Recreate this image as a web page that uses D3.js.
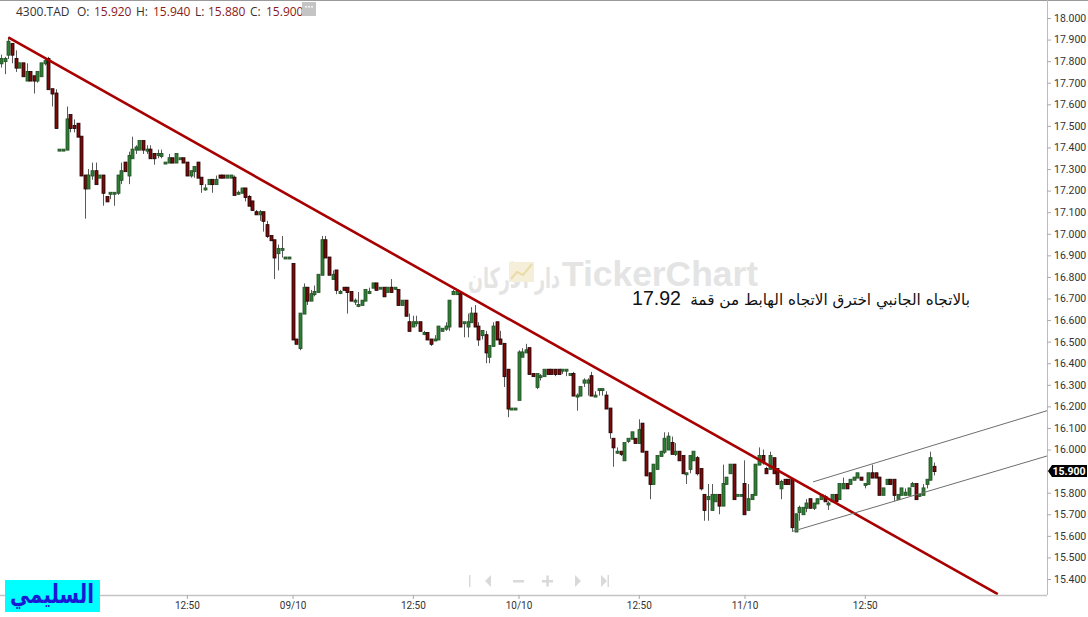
<!DOCTYPE html>
<html><head><meta charset="utf-8">
<script src="https://cdn.jsdelivr.net/npm/d3@7"></script>
<style>html,body{margin:0;padding:0;background:#fff;overflow:hidden}svg{display:block}</style>
</head><body>
<svg id="chart" width="1088" height="617"></svg>
<script>
// ---------------- DATA ----------------
const openArr = [
17.79,17.80,17.83,17.88,17.81,17.77,17.79,17.71,17.75,17.73,
17.71,17.73,17.79,17.81,17.67,17.65,17.39,17.39,17.39,17.55,
17.50,17.51,17.45,17.27,17.21,17.27,17.29,17.26,17.27,17.17,
17.19,17.19,17.19,17.25,17.33,17.27,17.35,17.39,17.39,17.43,
17.39,17.39,17.37,17.37,17.36,17.33,17.33,17.35,17.33,17.35,
17.35,17.33,17.27,17.29,17.33,17.26,17.21,17.23,17.25,17.23,
17.27,17.27,17.26,17.26,17.26,17.19,17.19,17.21,17.17,17.15,
17.10,17.09,17.10,17.04,16.99,16.97,16.91,16.93,16.89,16.89,
16.86,16.51,16.47,16.63,16.75,16.69,16.72,16.73,16.81,16.97,
16.89,16.79,16.83,16.73,16.75,16.75,16.73,16.69,16.67,16.67,
16.69,16.73,16.75,16.77,16.75,16.75,16.73,16.75,16.75,16.74,
16.67,16.69,16.59,16.57,16.59,16.59,16.54,16.54,16.51,16.51,
16.51,16.55,16.56,16.57,16.72,16.72,16.72,16.59,16.57,16.59,
16.63,16.57,16.53,16.53,16.43,16.48,16.59,16.51,16.49,16.37,
16.19,16.19,16.23,16.43,16.45,16.47,16.35,16.29,16.34,16.34,
16.37,16.37,16.37,16.37,16.37,16.37,16.35,16.35,16.25,16.25,
16.31,16.31,16.34,16.25,16.28,16.28,16.25,16.19,16.05,15.99,
15.99,15.95,16.04,16.05,16.05,16.03,16.12,15.99,15.89,15.84,
15.91,15.97,15.99,16.00,16.03,15.98,15.99,15.97,15.89,15.91,
15.95,15.96,15.91,15.79,15.77,15.72,15.76,15.79,15.74,15.84,
15.89,15.93,15.79,15.79,15.84,15.72,15.77,15.79,15.93,15.97,
15.91,15.91,15.96,15.91,15.82,15.86,15.86,15.86,15.62,15.71,
15.70,15.73,15.77,15.73,15.75,15.77,15.78,15.75,15.76,15.79,
15.77,15.82,15.84,15.84,15.86,15.87,15.87,15.84,15.84,15.89,
15.89,15.87,15.79,15.84,15.86,15.86,15.77,15.79,15.79,15.79,
15.83,15.84,15.79,15.79,15.84,15.86,15.92];
const highArr = [
17.83,17.82,17.91,17.88,17.85,17.79,17.79,17.79,17.75,17.73,
17.75,17.79,17.81,17.82,17.67,17.67,17.39,17.39,17.59,17.55,
17.53,17.51,17.45,17.27,17.30,17.33,17.33,17.27,17.27,17.17,
17.19,17.19,17.27,17.33,17.33,17.38,17.45,17.41,17.43,17.43,
17.41,17.41,17.37,17.39,17.39,17.33,17.37,17.35,17.37,17.35,
17.35,17.33,17.29,17.31,17.33,17.26,17.23,17.25,17.25,17.27,
17.27,17.27,17.27,17.27,17.27,17.20,17.21,17.21,17.18,17.15,
17.11,17.11,17.10,17.06,16.99,16.97,16.95,16.99,16.89,16.89,
16.86,16.51,16.63,16.77,16.75,16.74,16.76,16.81,16.99,16.99,
16.89,16.83,16.83,16.74,16.75,16.75,16.73,16.70,16.73,16.69,
16.74,16.75,16.77,16.77,16.75,16.75,16.75,16.79,16.75,16.74,
16.69,16.69,16.63,16.62,16.62,16.59,16.55,16.54,16.51,16.53,
16.57,16.56,16.59,16.69,16.74,16.73,16.73,16.59,16.63,16.66,
16.67,16.59,16.55,16.55,16.48,16.59,16.59,16.55,16.49,16.37,
16.19,16.19,16.46,16.47,16.49,16.47,16.35,16.35,16.35,16.37,
16.37,16.37,16.37,16.37,16.37,16.37,16.35,16.36,16.26,16.29,
16.33,16.33,16.36,16.27,16.28,16.28,16.27,16.19,16.05,16.01,
15.99,16.03,16.05,16.08,16.05,16.14,16.12,15.99,15.89,15.93,
15.97,15.99,16.08,16.08,16.06,16.03,15.99,15.97,15.89,15.97,
15.99,15.97,15.91,15.79,15.84,15.84,15.79,15.79,15.93,15.87,
15.93,15.93,15.79,15.79,15.95,15.84,15.79,15.93,16.01,16.00,
15.92,15.99,15.96,15.91,15.86,15.86,15.86,15.86,15.70,15.74,
15.73,15.77,15.77,15.75,15.77,15.79,15.79,15.76,15.79,15.79,
15.84,15.87,15.84,15.86,15.87,15.89,15.87,15.84,15.89,15.93,
15.89,15.87,15.82,15.86,15.86,15.86,15.79,15.82,15.82,15.82,
15.85,15.84,15.79,15.84,15.86,15.99,15.94];
const lowArr = [
17.77,17.74,17.81,17.79,17.75,17.77,17.73,17.71,17.71,17.65,
17.70,17.73,17.78,17.67,17.59,17.49,17.39,17.39,17.39,17.47,
17.47,17.45,17.27,17.07,17.21,17.25,17.23,17.26,17.13,17.15,
17.16,17.13,17.18,17.23,17.29,17.23,17.35,17.37,17.39,17.37,
17.37,17.35,17.32,17.35,17.35,17.33,17.33,17.33,17.33,17.35,
17.33,17.27,17.26,17.26,17.26,17.19,17.20,17.23,17.19,17.23,
17.26,17.26,17.26,17.26,17.18,17.18,17.19,17.15,17.13,17.11,
17.09,17.06,17.01,16.98,16.97,16.79,16.83,16.89,16.89,16.89,
16.51,16.49,16.46,16.63,16.67,16.69,16.71,16.73,16.81,16.89,
16.81,16.79,16.72,16.72,16.74,16.63,16.69,16.67,16.66,16.67,
16.69,16.72,16.75,16.74,16.75,16.71,16.73,16.73,16.74,16.67,
16.67,16.62,16.55,16.57,16.57,16.55,16.53,16.51,16.48,16.51,
16.51,16.55,16.55,16.55,16.72,16.72,16.57,16.52,16.52,16.59,
16.57,16.48,16.51,16.40,16.40,16.48,16.51,16.49,16.29,16.15,
16.19,16.19,16.23,16.43,16.45,16.35,16.34,16.28,16.32,16.34,
16.35,16.35,16.34,16.35,16.35,16.34,16.35,16.25,16.18,16.25,
16.29,16.25,16.25,16.25,16.25,16.25,16.19,16.05,15.92,15.98,
15.97,15.95,16.03,16.05,16.03,16.03,15.99,15.88,15.77,15.84,
15.91,15.97,15.98,16.00,15.98,15.97,15.95,15.89,15.84,15.89,
15.95,15.88,15.81,15.67,15.67,15.72,15.76,15.70,15.74,15.84,
15.89,15.77,15.79,15.79,15.70,15.72,15.77,15.79,15.93,15.93,
15.89,15.91,15.89,15.84,15.77,15.84,15.84,15.62,15.62,15.67,
15.70,15.71,15.73,15.72,15.75,15.77,15.76,15.72,15.76,15.76,
15.77,15.82,15.82,15.84,15.86,15.87,15.86,15.82,15.84,15.87,
15.87,15.79,15.79,15.84,15.84,15.76,15.77,15.79,15.79,15.79,
15.83,15.77,15.78,15.79,15.82,15.86,15.88];
const closeArr = [
17.81,17.81,17.89,17.83,17.77,17.79,17.73,17.75,17.71,17.71,
17.75,17.79,17.80,17.67,17.65,17.49,17.39,17.39,17.53,17.49,
17.49,17.45,17.27,17.21,17.27,17.29,17.23,17.27,17.19,17.15,
17.19,17.19,17.27,17.29,17.29,17.36,17.39,17.40,17.43,17.39,
17.39,17.35,17.35,17.37,17.37,17.33,17.35,17.33,17.37,17.35,
17.33,17.27,17.29,17.31,17.26,17.23,17.21,17.25,17.23,17.25,
17.26,17.26,17.27,17.27,17.18,17.19,17.21,17.17,17.13,17.11,
17.09,17.10,17.06,16.99,16.97,16.89,16.93,16.93,16.89,16.89,
16.51,16.49,16.63,16.75,16.69,16.72,16.73,16.81,16.97,16.89,
16.81,16.81,16.74,16.73,16.74,16.73,16.69,16.69,16.67,16.69,
16.74,16.73,16.77,16.74,16.75,16.71,16.75,16.73,16.75,16.67,
16.69,16.62,16.55,16.59,16.59,16.55,16.54,16.51,16.49,16.51,
16.57,16.56,16.57,16.69,16.73,16.73,16.57,16.59,16.59,16.63,
16.57,16.51,16.55,16.45,16.48,16.57,16.51,16.49,16.34,16.19,
16.19,16.19,16.45,16.45,16.46,16.35,16.34,16.35,16.34,16.37,
16.35,16.35,16.35,16.35,16.37,16.37,16.35,16.25,16.25,16.29,
16.32,16.32,16.25,16.25,16.28,16.28,16.19,16.08,16.01,15.99,
15.98,16.03,16.05,16.08,16.03,16.09,15.99,15.88,15.84,15.93,
15.97,15.99,16.05,16.06,15.98,15.99,15.95,15.89,15.89,15.97,
15.99,15.89,15.82,15.72,15.78,15.79,15.79,15.74,15.84,15.87,
15.93,15.77,15.79,15.79,15.70,15.77,15.79,15.93,15.97,15.94,
15.89,15.97,15.89,15.84,15.85,15.84,15.84,15.64,15.70,15.73,
15.73,15.75,15.73,15.75,15.77,15.79,15.76,15.75,15.79,15.76,
15.84,15.84,15.82,15.86,15.87,15.89,15.86,15.84,15.89,15.87,
15.87,15.79,15.82,15.86,15.84,15.79,15.79,15.82,15.80,15.82,
15.84,15.77,15.79,15.82,15.86,15.96,15.90];

const yTickValues = [18.0,17.9,17.8,17.7,17.6,17.5,17.4,17.3,17.2,17.1,17.0,16.9,16.8,16.7,16.6,16.5,16.4,16.3,16.2,16.1,16.0,15.9,15.8,15.7,15.6,15.5,15.4];
const xTickIndex = [18, 51, 80, 113, 142, 175, 204, 237];
// first tick label (08/10) is hidden under the author box in the reference
const xTickLabels = ["","12:50","09/10","12:50","10/10","12:50","11/10","12:50"];

// drawn lines (index, price anchors)
const trendIdx = [2, 273.5];      const trendPrice = [17.91, 15.33];
const chanLowIdx = [217, 287];    const chanLowPrice = [15.62, 15.97];
const chanUpIdx = [222.8, 287];   const chanUpPrice = [15.85, 16.18];

const symbol = "4300.TAD";
const ohlcLabels = ["O:", "H:", "L:", "C:"];
const ohlcValues = ["15.920", "15.940", "15.880", "15.900"];
const lastPrice = 15.90;
const noteArabic = "بالاتجاه الجانبي اخترق الاتجاه الهابط من قمة";
const noteNumber = "17.92";
const authorText = "السليمي";

// ---------------- CHART ----------------
const W = 1088, H = 617;
const plotRight = 1047, plotBottom = 595;
const svg = d3.select("#chart");
const x = d3.scaleLinear().domain([0, 287]).range([1, 1047]);
const y = d3.scaleLinear().domain([15.4, 18.0]).range([579, 18]);

svg.append("defs").append("clipPath").attr("id","plotclip")
  .append("rect").attr("x",0).attr("y",0).attr("width",plotRight).attr("height",plotBottom);

// top border
svg.append("line").attr("x1",0).attr("x2",W).attr("y1",0.5).attr("y2",0.5).attr("stroke","#9a9a9a").attr("stroke-width",1);

// watermark
const wm = svg.append("g");
wm.append("text").attr("x",562).attr("y",286).attr("font-family","Liberation Sans, Arial, sans-serif")
  .attr("font-weight","bold").attr("font-size",40).attr("fill","#e4e4e4").text("TickerChart")
  .each(function(){ const w=this.getComputedTextLength(); d3.select(this).attr("font-size",40*196/w); });
wm.append("text").attr("text-anchor","end").attr("font-family","DejaVu Sans, sans-serif")
  .attr("font-weight","bold").attr("font-size",30).attr("fill","#e4e4e4").text("دار الأركان")
  .each(function(){ const w=this.getComputedTextLength(); d3.select(this).attr("font-size",30*92/w); })
  .attr("transform","translate(560,288) scale(1,1.6)");
wm.append("rect").attr("x",509).attr("y",262).attr("width",25).attr("height",20).attr("fill","#f5efd9");
wm.append("path").attr("d","M511 279 L517 272 L523 275 L532 264").attr("fill","none").attr("stroke","#eadca8").attr("stroke-width",2);

const plot = svg.append("g").attr("clip-path","url(#plotclip)");

// candles
const idx = d3.range(openArr.length);
const cg = plot.append("g");
cg.selectAll("line.wick").data(idx).join("line").attr("class","wick")
  .attr("x1", i => Math.round(x(i)) + 0.5).attr("x2", i => Math.round(x(i)) + 0.5)
  .attr("y1", i => y(highArr[i])).attr("y2", i => y(lowArr[i]))
  .attr("stroke","#5a5a5a").attr("stroke-width",1);
cg.selectAll("rect.body").data(idx).join("rect").attr("class","body")
  .attr("x", i => Math.round(x(i)) - 1)
  .attr("width", 3)
  .attr("y", i => y(Math.max(openArr[i], closeArr[i])) - 0.5)
  .attr("height", i => Math.max(1, Math.abs(y(openArr[i]) - y(closeArr[i]))) + 1)
  .attr("fill", i => closeArr[i] >= openArr[i] ? "#2f7d35" : "#7d0a0a")
  .attr("stroke", i => closeArr[i] >= openArr[i] ? "#244d24" : "#1a0000")
  .attr("stroke-width", 0.8);

// trend line
const lineGen = d3.line().x(d => x(d[0])).y(d => y(d[1]));
plot.append("path").datum(d3.zip(trendIdx, trendPrice)).attr("d", lineGen)
  .attr("fill","none").attr("stroke","#a80000").attr("stroke-width",2.6);
// channel
[[chanUpIdx, chanUpPrice],[chanLowIdx, chanLowPrice]].forEach(([ix, pr]) => {
  plot.append("path").datum(d3.zip(ix, pr)).attr("d", lineGen)
    .attr("fill","none").attr("stroke","#6e6e6e").attr("stroke-width",1);
});

// annotation (number on the left, Arabic words to its right)
svg.append("text").attr("x",632).attr("y",305).attr("text-anchor","start")
  .attr("font-family","Liberation Sans, Arial, sans-serif").attr("font-size",21).attr("fill","#111")
  .text(noteNumber)
  .each(function(){ const w=this.getComputedTextLength(); d3.select(this).attr("font-size",21*49/w); });
svg.append("text").attr("x",970).attr("y",305).attr("text-anchor","end")
  .attr("font-family","DejaVu Sans, sans-serif").attr("font-size",18).attr("fill","#111")
  .text(noteArabic)
  .each(function(){ const w=this.getComputedTextLength(); d3.select(this).attr("font-size",18*280/w); });

// right axis
svg.append("line").attr("x1",plotRight+0.5).attr("x2",plotRight+0.5).attr("y1",0).attr("y2",plotBottom)
  .attr("stroke","#bdbdbd").attr("stroke-width",1);
const yAxis = d3.axisRight(y).tickValues(yTickValues).tickFormat(d3.format(".3f")).tickSize(4).tickPadding(3);
const ya = svg.append("g").attr("transform",`translate(${plotRight},0)`).call(yAxis);
ya.select(".domain").remove();
ya.selectAll(".tick line").attr("stroke","#aaa");
ya.selectAll(".tick text").attr("fill","#333").attr("font-family","Roboto, sans-serif").attr("font-size",10.5);

// bottom axis
svg.append("line").attr("x1",0).attr("x2",plotRight).attr("y1",plotBottom+0.5).attr("y2",plotBottom+0.5)
  .attr("stroke","#c4c4c4").attr("stroke-width",1.5);
const xAxis = d3.axisBottom(x).tickValues(xTickIndex).tickFormat((d,k) => xTickLabels[k]).tickSize(4).tickPadding(3);
const xa = svg.append("g").attr("transform",`translate(0,${plotBottom})`).call(xAxis);
xa.select(".domain").remove();
xa.selectAll(".tick line").attr("stroke","#aaa");
xa.selectAll(".tick text").attr("fill","#333").attr("font-family","Roboto, sans-serif").attr("font-size",10);

// last price tag
const py = Math.round(y(lastPrice));
svg.append("path").attr("d",`M${plotRight+1},${py} L${plotRight+5},${py-6} L1087,${py-6} L1087,${py+6} L${plotRight+5},${py+6} Z`).attr("fill","#000");
svg.append("text").attr("x",1069).attr("y",py+4).attr("text-anchor","middle").attr("fill","#fff")
  .attr("font-family","Roboto, sans-serif").attr("font-size",10.5).attr("font-weight","bold").text(d3.format(".3f")(lastPrice));

// navigation icons
const nav = svg.append("g").attr("fill","#d9d9d9").attr("stroke","none");
nav.append("rect").attr("x",469).attr("y",575).attr("width",1.5).attr("height",12);
nav.append("path").attr("d","M491,575 L485,581 L491,587 Z");
nav.append("rect").attr("x",513).attr("y",580).attr("width",11).attr("height",2.5);
nav.append("rect").attr("x",542).attr("y",580).attr("width",11).attr("height",2.5);
nav.append("rect").attr("x",546.3).attr("y",575.5).attr("width",2.5).attr("height",11);
nav.append("path").attr("d","M575,575 L581,581 L575,587 Z");
nav.append("path").attr("d","M601,575 L607,581 L601,587 Z");
nav.append("rect").attr("x",607.5).attr("y",575).attr("width",1.5).attr("height",12);

// author label
svg.append("rect").attr("x",5).attr("y",580).attr("width",95).attr("height",32).attr("fill","#00ffff");
svg.append("text").attr("text-anchor","middle")
  .attr("font-family","DejaVu Sans, sans-serif").attr("font-weight","bold").attr("font-size",24).attr("fill","#1a1ad6")
  .text(authorText)
  .each(function(){ const w=this.getComputedTextLength(); d3.select(this).attr("font-size",24*84/w); })
  .attr("transform","translate(52,603) scale(1,1.3)");

// header
const hdr = svg.append("g").attr("font-family","Open Sans, sans-serif").attr("font-size",12);
hdr.append("text").attr("x",16).attr("y",16).attr("fill","#333").text(symbol);
const labX = [77, 136, 195, 250], valX = [94, 153, 208, 266];
ohlcLabels.forEach((l,k) => {
  hdr.append("text").attr("x",labX[k]).attr("y",16).attr("fill","#333").text(l);
  hdr.append("text").attr("x",valX[k]).attr("y",16).attr("fill","#8b1a1a").text(ohlcValues[k]);
});
svg.append("rect").attr("x",302).attr("y",2).attr("width",14).attr("height",14).attr("fill","#c4c4c4");
[306,309,312].forEach(cx => svg.append("rect").attr("x",cx-0.8).attr("y",6).attr("width",1.6).attr("height",1.6).attr("fill","#fff"));
</script>
</body></html>
